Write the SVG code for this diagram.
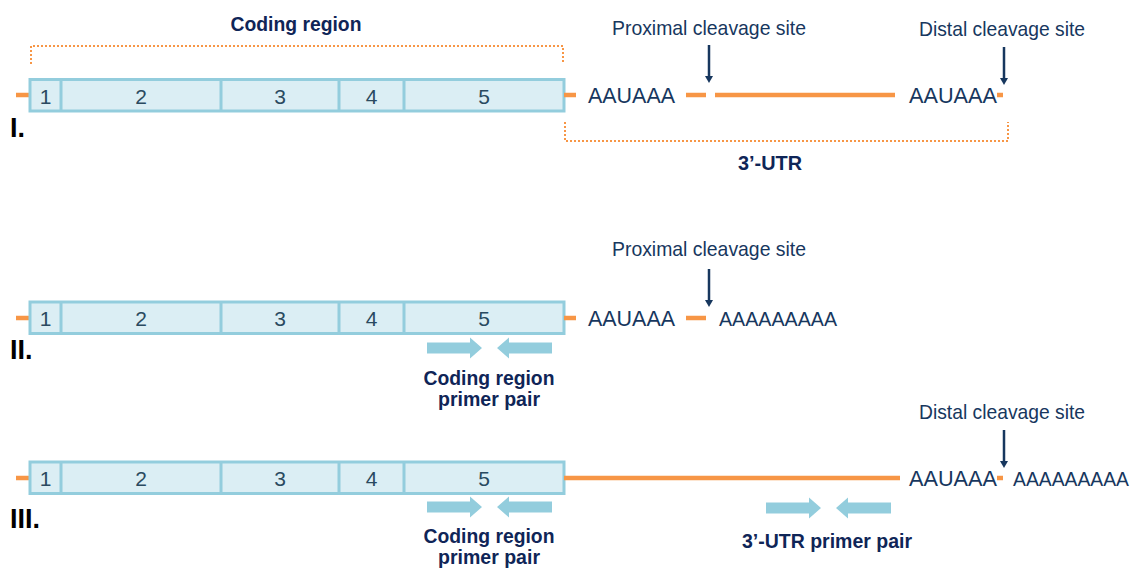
<svg xmlns="http://www.w3.org/2000/svg" width="1138" height="568" viewBox="0 0 1138 568">
<defs>
<g id="gene">
<rect x="30" y="0" width="534" height="31.5" fill="#dbeef4" stroke="#93cddd" stroke-width="3"/>
<line x1="61" y1="0" x2="61" y2="31.5" stroke="#93cddd" stroke-width="3"/>
<line x1="221" y1="0" x2="221" y2="31.5" stroke="#93cddd" stroke-width="3"/>
<line x1="339" y1="0" x2="339" y2="31.5" stroke="#93cddd" stroke-width="3"/>
<line x1="404" y1="0" x2="404" y2="31.5" stroke="#93cddd" stroke-width="3"/>
<text class="num" x="45.5" y="24">1</text>
<text class="num" x="141" y="24">2</text>
<text class="num" x="280" y="24">3</text>
<text class="num" x="371.5" y="24">4</text>
<text class="num" x="484" y="24">5</text>
</g>
<g id="pair">
<polygon points="427,-5.5 470,-5.5 470,-10.5 482,0 470,10.5 470,5.5 427,5.5" fill="#93cddd"/>
<polygon points="552,-5.5 509,-5.5 509,-10.5 497,0 509,10.5 509,5.5 552,5.5" fill="#93cddd"/>
</g>
<g id="cut">
<line x1="0" y1="-38" x2="0" y2="-6" stroke="#17375e" stroke-width="2.5"/>
<path d="M-4,-7 L4,-7 L0,0 Z" fill="#17375e"/>
</g>
</defs>
<style>
.num{font-family:"Liberation Sans",Arial,sans-serif;font-size:21px;fill:#2a4a60;text-anchor:middle}
.seq{font-family:"Liberation Sans",Arial,sans-serif;font-size:22px;fill:#17375e}
.polya{font-family:"Liberation Sans",Arial,sans-serif;font-size:20px;fill:#17375e}
.lab{font-family:"Liberation Sans",Arial,sans-serif;font-size:21px;fill:#17375e;text-anchor:middle}
.bold{font-family:"Liberation Sans",Arial,sans-serif;font-size:21px;font-weight:bold;fill:#0f2557;text-anchor:middle}
.roman{font-family:"Liberation Sans",Arial,sans-serif;font-size:27px;font-weight:bold;fill:#000}
.rna{stroke:#f79646;stroke-width:4.5;fill:none}
.dot{stroke:#f79646;stroke-width:2;fill:none;stroke-dasharray:2 2}
</style>

<!-- Row I -->
<g id="row1">
<text class="roman" x="10" y="137">I.</text>
<text class="bold" x="296" y="31" textLength="131" lengthAdjust="spacingAndGlyphs">Coding region</text>
<path class="dot" d="M31,64 V46 H563 V64"/>
<line class="rna" x1="16" y1="95" x2="30" y2="95"/>
<use href="#gene" y="79.5"/>
<line class="rna" x1="564" y1="95" x2="576" y2="95"/>
<text class="seq" x="588" y="103" textLength="87" lengthAdjust="spacingAndGlyphs">AAUAAA</text>
<line class="rna" x1="686" y1="95" x2="706" y2="95"/>
<line class="rna" x1="715" y1="95" x2="895" y2="95"/>
<text class="seq" x="909" y="103" textLength="88" lengthAdjust="spacingAndGlyphs">AAUAAA</text>
<line class="rna" x1="997" y1="95" x2="1003" y2="95"/>
<text class="lab" x="709" y="35" textLength="194" lengthAdjust="spacingAndGlyphs">Proximal cleavage site</text>
<text class="lab" x="1002" y="36" textLength="166" lengthAdjust="spacingAndGlyphs">Distal cleavage site</text>
<path class="dot" d="M565,122 V141 H1008 V122"/>
<text class="bold" x="770" y="170" textLength="64" lengthAdjust="spacingAndGlyphs">3’-UTR</text>
</g>

<!-- Row II -->
<g id="row2">
<text class="roman" x="10" y="359">II.</text>
<line class="rna" x1="16" y1="318" x2="30" y2="318"/>
<use href="#gene" y="302"/>
<line class="rna" x1="564" y1="318" x2="576" y2="318"/>
<text class="seq" x="588" y="326" textLength="87" lengthAdjust="spacingAndGlyphs">AAUAAA</text>
<line class="rna" x1="686" y1="318" x2="706" y2="318"/>
<text class="polya" x="719" y="326" textLength="118" lengthAdjust="spacingAndGlyphs">AAAAAAAAA</text>
<text class="lab" x="709" y="256" textLength="194" lengthAdjust="spacingAndGlyphs">Proximal cleavage site</text>
<use href="#pair" y="348"/>
<text class="bold" x="489" y="385" textLength="131" lengthAdjust="spacingAndGlyphs">Coding region</text>
<text class="bold" x="489" y="406" textLength="102" lengthAdjust="spacingAndGlyphs">primer pair</text>
</g>

<!-- Row III -->
<g id="row3">
<text class="roman" x="10" y="528">III.</text>
<line class="rna" x1="16" y1="478" x2="30" y2="478"/>
<use href="#gene" y="462"/>
<line class="rna" x1="564" y1="478" x2="900" y2="478"/>
<text class="seq" x="909" y="486" textLength="88" lengthAdjust="spacingAndGlyphs">AAUAAA</text>
<line class="rna" x1="997" y1="478" x2="1003" y2="478"/>
<text class="polya" x="1013" y="486" textLength="116" lengthAdjust="spacingAndGlyphs">AAAAAAAAA</text>
<text class="lab" x="1002" y="419" textLength="166" lengthAdjust="spacingAndGlyphs">Distal cleavage site</text>
<use href="#pair" y="507"/>
<text class="bold" x="489" y="543" textLength="131" lengthAdjust="spacingAndGlyphs">Coding region</text>
<text class="bold" x="489" y="564" textLength="102" lengthAdjust="spacingAndGlyphs">primer pair</text>
<use href="#pair" x="339" y="508"/>
<text class="bold" x="827" y="548" textLength="170" lengthAdjust="spacingAndGlyphs">3’-UTR primer pair</text>
</g>

<!-- Connectors: cleavage-site arrows -->
<g id="connectors">
<use href="#cut" x="709" y="83"/>
<use href="#cut" x="1004" y="85"/>
<use href="#cut" x="709" y="307"/>
<use href="#cut" x="1004" y="468"/>
</g>
</svg>
